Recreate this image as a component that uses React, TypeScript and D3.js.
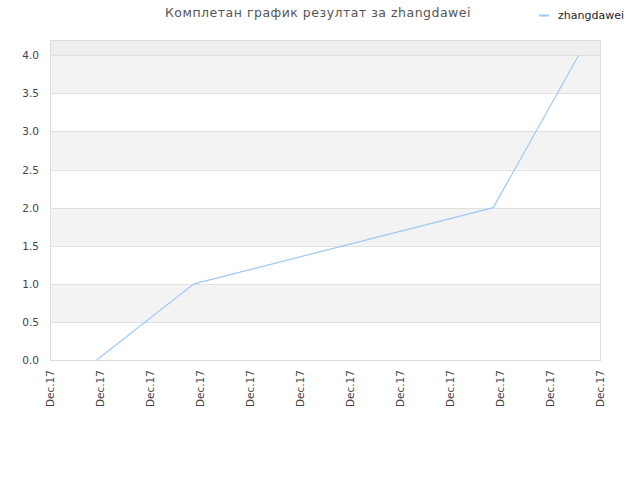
import * as d3 from "d3";

const seriesName = "zhangdawei";
const title = "Комплетан график резултат за zhangdawei";
const times = [
  "2017-12-01T22:25:00",
  "2017-12-03T21:07:00",
  "2017-12-09T20:47:00",
  "2017-12-11T13:46:00",
];
const values = [0, 1, 2, 4];
const yTicks = [0, 0.5, 1, 1.5, 2, 2.5, 3, 3.5, 4];
const domainStart = "2017-12-01T00:00:00";
const domainEnd = "2017-12-12T00:00:00";

const width = 640;
const height = 480;
const marginLeft = 50;
const marginRight = 40;
const marginTop = 40;
const marginBottom = 120;

export default function App() {
  const parse = (s: string) => new Date(s);
  const x = d3
    .scaleTime()
    .domain([parse(domainStart), parse(domainEnd)])
    .range([marginLeft, width - marginRight]);
  const y = d3.scaleLinear([0, 4.2], [height - marginBottom, marginTop]);
  const xTicks = d3.timeDay.range(parse(domainStart), d3.timeDay.offset(parse(domainEnd), 1));
  const fmt = d3.timeFormat("%b.%y");

  const pts = times.map((t, i) => [x(parse(t)), y(values[i])] as [number, number]);
  const line = d3.line();

  const bands: Array<[number, number, string]> = [];
  const edges = [...yTicks, 4.2];
  for (let i = 0; i < edges.length - 1; i++) {
    const fill = i === edges.length - 2 ? "#eeeeee" : i % 2 === 1 ? "#f3f3f3" : "#ffffff";
    bands.push([edges[i], edges[i + 1], fill]);
  }

  return (
    <svg
      width={width}
      height={height}
      style={{ position: "absolute", left: 0, top: 0, background: "#fff" }}
      fontFamily="'DejaVu Sans', sans-serif"
    >
      <text x={318} y={17} textAnchor="middle" fontSize={12.5} fill="#555" letterSpacing={0.5}>
        {title}
      </text>
      <line x1={539} x2={549} y1={15.5} y2={15.5} stroke="#9fc8f2" strokeWidth={2} />
      <text x={558} y={19} fontSize={11} fill="#222">
        {seriesName}
      </text>

      {bands.map(([a, b, fill], i) => (
        <rect
          key={i}
          x={marginLeft}
          y={y(b)}
          width={width - marginLeft - marginRight}
          height={y(a) - y(b)}
          fill={fill}
        />
      ))}
      {yTicks.map((t) => (
        <g key={t}>
          <line
            x1={marginLeft}
            x2={width - marginRight}
            y1={Math.round(y(t)) + 0.5}
            y2={Math.round(y(t)) + 0.5}
            stroke="#e0e0e0"
          />
          <text x={39} y={y(t) + 4} textAnchor="end" fontSize={10.5} fill="#444">
            {t.toFixed(1)}
          </text>
        </g>
      ))}
      <rect
        x={marginLeft + 0.5}
        y={marginTop + 0.5}
        width={width - marginLeft - marginRight}
        height={height - marginBottom - marginTop}
        fill="none"
        stroke="#dcdcdc"
      />
      {xTicks.map((d, i) => (
        <text
          key={i}
          transform={`translate(${x(d) + 4},${370}) rotate(-90)`}
          textAnchor="end"
          fontSize={10.5}
          fill="#444"
        >
          {fmt(d)}
        </text>
      ))}
      <path d={line(pts)!} fill="none" stroke="#9fc8f2" strokeWidth={1.2} />
    </svg>
  );
}
